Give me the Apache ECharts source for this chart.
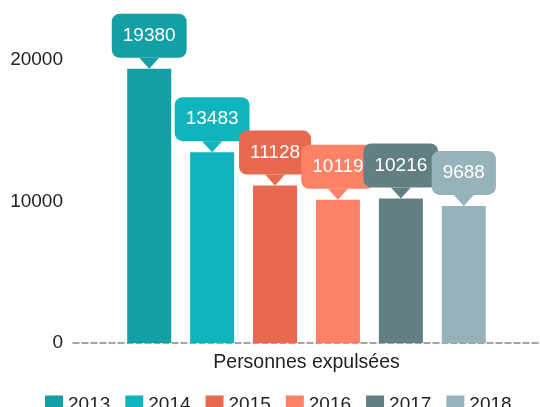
<!DOCTYPE html>
<html>
<head>
<meta charset="utf-8">
<script src="https://cdn.jsdelivr.net/npm/echarts@6/dist/echarts.min.js"></script>
<style>
  html, body { margin: 0; padding: 0; background: #fff; }
  #chart { width: 540px; height: 407px; }
</style>
</head>
<body>
<div id="chart"></div>
<script>
// données
var categories = ['Personnes expulsées'];
var years = ['2013', '2014', '2015', '2016', '2017', '2018'];
var values = [19380, 13483, 11128, 10119, 10216, 9688];
var colors = ['#139fa4', '#10b4bc', '#e76a4e', '#fb8266', '#628084', '#95b3b8'];

var font = 'Liberation Sans, Arial, sans-serif';

var series = years.map(function (year, i) {
    return {
        name: year,
        type: 'bar',
        barWidth: 44,
        barGap: '43%',
        itemStyle: {color: colors[i]},
        data: [values[i]],
        label: {
            show: true,
            position: 'top',
            distance: 11,
            color: '#fff',
            fontSize: 19,
            fontFamily: font,
            backgroundColor: colors[i],
            borderRadius: 8,
            padding: [12, 11, 12, 11],
            lineHeight: 20
        },
        // petite pointe sous l'étiquette
        markPoint: {
            symbol: 'triangle',
            symbolRotate: 180,
            symbolSize: [20, 11],
            symbolOffset: [0, -5.5],
            itemStyle: {color: colors[i]},
            label: {show: false},
            silent: true,
            data: [{coord: [categories[0], values[i]]}]
        }
    };
});

var myChart = echarts.init(document.getElementById('chart'));
myChart.setOption({
    animation: false,
    textStyle: {fontFamily: font},
    grid: {left: 73, right: 0, top: 60, bottom: 64},
    legend: {
        data: years,
        left: 45,
        top: 395,
        padding: 0,
        icon: 'rect',
        itemWidth: 18,
        itemHeight: 18,
        itemGap: 15,
        textStyle: {fontSize: 19, color: '#222', fontFamily: font}
    },
    xAxis: {
        type: 'category',
        data: categories,
        axisTick: {show: false},
        axisLine: {lineStyle: {color: '#888', type: 'dashed', width: 1.5}},
        axisLabel: {fontSize: 19.5, color: '#222', margin: 10, fontFamily: font}
    },
    yAxis: {
        type: 'value',
        min: 0,
        max: 20000,
        interval: 10000,
        splitLine: {show: false},
        axisLine: {show: false},
        axisTick: {show: false},
        axisLabel: {
            fontSize: 19, color: '#222', margin: 10, fontFamily: font,
            formatter: function (v) { return String(v); }
        }
    },
    series: series
});
</script>
</body>
</html>
